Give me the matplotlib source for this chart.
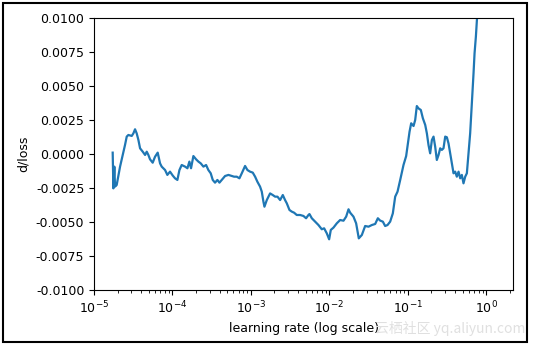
import matplotlib
matplotlib.use("Agg")
import matplotlib.pyplot as plt
from matplotlib.patches import Rectangle
from matplotlib.ticker import FormatStrFormatter

# learning rates (log10 exponents) and d/loss values
lr_exp = [-4.762, -4.753, -4.741, -4.732, -4.711, -4.668, -4.634, -4.605, -4.583, -4.562,
          -4.519, -4.498, -4.477, -4.456, -4.434, -4.413, -4.379, -4.349, -4.328, -4.307,
          -4.286, -4.252, -4.222, -4.188, -4.158, -4.137, -4.094, -4.065, -4.031, -3.996,
          -3.967, -3.937, -3.911, -3.882, -3.839, -3.809, -3.784, -3.763, -3.733, -3.699,
          -3.669, -3.639, -3.605, -3.571, -3.542, -3.512, -3.486, -3.457, -3.427, -3.401,
          -3.371, -3.329, -3.286, -3.244, -3.214, -3.180, -3.146, -3.116, -3.074, -3.044,
          -3.010, -2.976, -2.946, -2.917, -2.883, -2.861, -2.840, -2.827, -2.797, -2.755,
          -2.721, -2.691, -2.661, -2.627, -2.593, -2.564, -2.542, -2.508, -2.479, -2.449,
          -2.415, -2.372, -2.330, -2.296, -2.266,
          -2.253, -2.223, -2.181, -2.138, -2.096, -2.066, -2.032, -2.002, -1.981, -1.947,
          -1.904, -1.862, -1.819, -1.785, -1.755, -1.734, -1.692, -1.658, -1.636, -1.624,
          -1.585, -1.543, -1.500, -1.458, -1.415, -1.381, -1.352, -1.317, -1.288, -1.258,
          -1.224, -1.190, -1.160, -1.130, -1.096, -1.054, -1.020, -1.003, -0.977, -0.956,
          -0.926, -0.905, -0.884, -0.863, -0.833, -0.807, -0.777, -0.756, -0.735, -0.714,
          -0.692, -0.671, -0.650, -0.629, -0.607, -0.586, -0.565, -0.544, -0.522, -0.501,
          -0.480, -0.459, -0.437, -0.416, -0.395, -0.374, -0.352, -0.331, -0.310, -0.289,
          -0.267, -0.246, -0.225, -0.204, -0.182, -0.161, -0.148, -0.131, -0.118, -0.106]

dloss_e4 = [1.1, -25.2, -9.2, -23.9, -22.7, -9.2, -0.6, 6.7, 12.9, 14.1,
            13.4, 15.3, 18.3, 15.3, 10.4, 4.3, 1.8, -0.6, 1.8, -0.6,
            -3.8, -6.3, -1.9, 1.1, -6.8, -9.2, -11.7, -15.3, -12.9, -15.8,
            -17.8, -19.0, -11.7, -8.0, -9.2, -10.4, -5.5, -10.4, -1.4, -3.8,
            -5.5, -6.8, -9.2, -8.0, -11.7, -14.1, -19.0, -21.0, -19.0, -21.0,
            -19.0, -16.1, -15.3, -16.1, -16.6, -16.6, -17.8, -14.1, -8.7, -11.7,
            -12.9, -13.6, -16.6, -20.3, -23.9, -27.6, -35.0, -38.7, -33.8, -28.9,
            -30.1, -31.3, -31.3, -33.8, -30.1, -33.8, -36.2, -41.1, -42.3, -43.1,
            -44.8, -44.8, -45.5, -47.2, -44.8,
            -44.1, -47.2, -49.7, -52.2, -55.3, -54.6, -58.3, -62.7, -55.8, -54.1,
            -50.9, -48.5, -49.0, -46.0, -40.6, -43.1, -46.0, -50.9, -58.3, -62.0,
            -59.5, -52.9, -53.4, -52.2, -51.4, -47.2, -48.9, -49.7, -52.9, -52.2,
            -49.7, -43.6, -31.3, -27.6, -19.0, -8.0, -1.4, 5.5, 16.5, 22.7,
            20.7, 25.1, 35.4, 33.7, 32.5, 26.4, 21.5, 15.3, 6.7, 0.6,
            10.4, 12.9, 5.5, -4.3, -0.6, 4.3, 3.1, 4.3, 12.9, 12.4,
            7.9, 0.6, -6.8, -14.1, -12.9, -16.6, -12.9, -17.8, -15.3, -21.5,
            -16.6, -14.1, 0.6, 15.3, 37.4, 59.5, 74.2, 86.5, 98.7, 108.5]

lrs = [10 ** e for e in lr_exp]
dloss = [v * 1e-4 for v in dloss_e4]

y_ticks = [-0.01, -0.0075, -0.005, -0.0025, 0.0, 0.0025, 0.005, 0.0075, 0.01]

fig = plt.figure(figsize=(5.33, 3.49), dpi=100)
ax = fig.add_axes([0.1764, 0.1691, 0.9625 - 0.1764, 0.9476 - 0.1691])
ax.plot(lrs, dloss, color="#1f77b4", linewidth=1.6)
ax.set_xscale("log")
ax.set_xlim(1e-5, 2.2)
ax.set_ylim(-0.01, 0.01)
ax.set_yticks(y_ticks)
ax.yaxis.set_major_formatter(FormatStrFormatter("%.4f"))
ax.tick_params(labelsize=9)
ax.set_xlabel("learning rate (log scale)", fontsize=9)
ax.set_ylabel("d/loss", fontsize=9)

fig.patches.append(Rectangle((3 / 533, 1 - 342 / 349), 524 / 533, 339 / 349,
                             transform=fig.transFigure, fill=False,
                             edgecolor="black", linewidth=1.5))
fig.text(0.985, 0.058, "云栖社区 yq.aliyun.com", ha="right", va="center",
         fontsize=10, color="#e0e0e0", family=["Noto Sans CJK SC", "DejaVu Sans"])

fig.savefig("out.png", dpi=100)
